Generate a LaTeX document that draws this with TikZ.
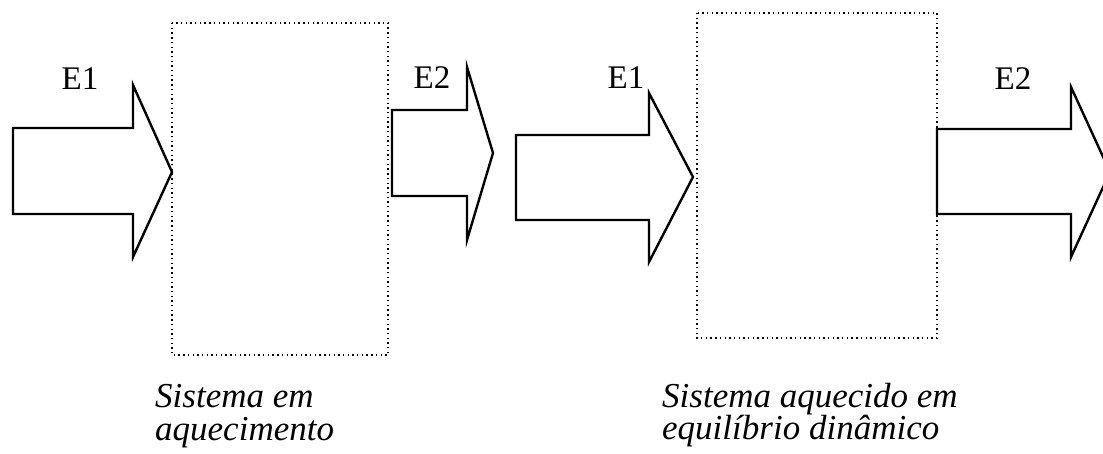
\documentclass[tikz,border=0pt]{standalone}
\usepackage{fontspec}
\setmainfont{Liberation Serif}
\begin{document}
\begin{tikzpicture}[x=1pt,y=-1pt,
  sysbox/.style={draw=black,line width=1.4pt,dash pattern=on 1.4pt off 3.3pt},
  bigarrow/.style={draw=black,line width=2.4pt,fill=white,line join=miter},
  elabel/.style={anchor=base,inner sep=0pt,font=\fontsize{33}{33}\selectfont},
  caption/.style={anchor=base west,inner sep=0pt,font=\fontsize{35}{35}\selectfont\itshape}]
\useasboundingbox (0,0) rectangle (1103,453);
% system boxes
\draw[sysbox] (172,23) rectangle (388,355);
\draw[sysbox] (697,13) rectangle (937,338);
% arrows
\draw[bigarrow] (13,128) -- (133,128) -- (133,85) -- (172,172) -- (133,257) -- (133,214) -- (13,214) -- cycle;
\draw[bigarrow] (392,110) -- (467,110) -- (467,67) -- (493,153) -- (467,240) -- (467,196) -- (392,196) -- cycle;
\draw[bigarrow] (516,135) -- (649,135) -- (649,93) -- (693,177) -- (649,262) -- (649,220) -- (516,220) -- cycle;
\draw[bigarrow] (937,129) -- (1071,129) -- (1071,87) -- (1110,172) -- (1071,257) -- (1071,214) -- (937,214) -- cycle;
% labels
\node[elabel] (e1a) at (80,89) {E1};
\node[elabel] (e2a) at (432,88) {E2};
\node[elabel] (e1b) at (626,88) {E1};
\node[elabel] (e2b) at (1013,89) {E2};
% captions
\node[caption] (c1a) at (155,407) {Sistema em};
\node[caption] (c1b) at (155,440) {aquecimento};
\node[caption] (c2a) at (662,407) {Sistema aquecido em};
\node[caption] (c2b) at (662,439) {equilíbrio dinâmico};
\end{tikzpicture}
\end{document}
